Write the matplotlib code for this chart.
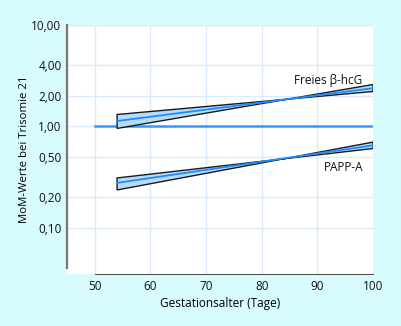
#Plot MoM values in trisomy 21 vs gestational age
import matplotlib.pyplot as plt
import numpy as np

plt.rcParams['font.family'] = ['Open Sans', 'DejaVu Sans']

x_band = [54, 100]
hcg_upper = [1.31, 2.59]
hcg_lower = [0.955, 2.21]
hcg_mid = [1.13, 2.38]
papp_upper = [0.31, 0.70]
papp_lower = [0.236, 0.605]
papp_mid = [0.277, 0.65]
ref_x = [50, 100]
ref_y = [1.0, 1.0]

yticks = [0.1, 0.2, 0.5, 1.0, 2.0, 4.0, 10.0]
ytick_labels = ['0,10', '0,20', '0,50', '1,00', '2,00', '4,00', '10,00']
xticks = [50, 60, 70, 80, 90, 100]

bg = '#d8fcfe'
fig = plt.figure(figsize=(4.02, 3.26), dpi=100, facecolor=bg)
ax = fig.add_axes([0.1667, 0.1595, 0.7613, 0.7638])
ax.set_yscale('log')
ax.set_xlim(45, 100)
ax.set_ylim(0.035, 10.0)

for v in xticks[:-1]:
    ax.axvline(v, color='#dcebfb', lw=1, zorder=0)
for v in yticks:
    ax.axhline(v, color='#dcebfb', lw=1, zorder=0)

ax.plot(ref_x, ref_y, color='#3399ff', lw=1.8, zorder=2)

# bands are bow-tie shaped: upper-left edge runs to lower-right corner
for up, lo, mid in [(hcg_upper, hcg_lower, hcg_mid), (papp_upper, papp_lower, papp_mid)]:
    poly_x = [x_band[0], x_band[1], x_band[1], x_band[0], x_band[0]]
    poly_y = [up[0], lo[1], up[1], lo[0], up[0]]
    ax.fill(poly_x, poly_y, facecolor='#b5dbff', edgecolor='#1a1a1a', lw=1, zorder=3)
    ax.plot(x_band, mid, color='#1e8cff', lw=1.3, zorder=5)

ax.text(98.0, 2.45, u'Freies \u03b2-hcG', ha='right', va='bottom', fontsize=8.5, color='#111111')
ax.text(98.2, 0.395, 'PAPP-A', ha='right', va='center', fontsize=8.5, color='#111111')

ax.set_yticks(yticks)
ax.set_yticklabels(ytick_labels)
ax.yaxis.set_minor_locator(plt.NullLocator())
ax.set_xticks(xticks)
ax.tick_params(length=0, labelsize=8.5, pad=4, colors='#111111')
ax.set_xlabel('Gestationsalter (Tage)', fontsize=8.5, labelpad=3)
ax.set_ylabel('MoM-Werte bei Trisomie 21', fontsize=8.2, labelpad=1)

ax.spines['top'].set_visible(False)
ax.spines['right'].set_visible(False)
ax.spines['left'].set_color('#777777')
ax.spines['left'].set_linewidth(1.6)
ax.spines['left'].set_bounds(0.0402, 10.0)
ax.spines['bottom'].set_color('#555555')
ax.spines['bottom'].set_bounds(50, 100)

plt.savefig('out.png', dpi=100, facecolor=bg)
